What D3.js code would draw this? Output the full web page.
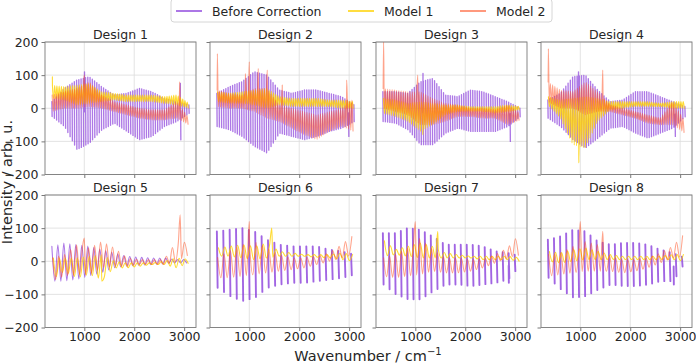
<html>
<head>
<style>
  body { margin: 0; background: #fff; }
  text { font-family: "DejaVu Sans", sans-serif; fill: #262626; }
</style>
</head>
<body>
<div id="chart"></div>
<script src="https://cdn.jsdelivr.net/npm/d3@7"></script>
<script>
var wn = [350, 600, 850, 1100, 1350, 1600, 1850, 2100, 2350, 2600, 2850, 3100];
var designs = ["Design 1", "Design 2", "Design 3", "Design 4", "Design 5", "Design 6", "Design 7", "Design 8"];
var seriesNames = ["Before Correction", "Model 1", "Model 2"];
// fringe period of each design, cm-1
var period = [45, 45, 45, 45, 120, 128, 120, 122];
var yTicks = [-200, -100, 0, 100, 200];
var xTicks = [1000, 2000, 3000];

// upper / lower envelope of each curve
var beforeHi = [
  [20, 60, 85, 95, 65, 40, 45, 60, 50, 30, 20, 10],
  [45, 65, 80, 110, 100, 55, 45, 55, 55, 45, 35, 10],
  [50, 50, 45, 80, 90, 40, 35, 55, 50, 35, 20, 0],
  [25, 45, 95, 100, 55, 20, 25, 50, 50, 35, 20, 5],
  [45, 55, 50, 45, 35, 25, 15, 12, 10, 10, 5, 5],
  [90, 95, 100, 90, 65, 50, 45, 45, 45, 35, 30, 20],
  [85, 85, 100, 95, 75, 50, 50, 50, 45, 30, 25, 15],
  [65, 75, 95, 90, 60, 50, 55, 55, 50, 35, 25, 10]
];
var beforeLo = [
  [-25, -55, -125, -105, -65, -45, -70, -95, -85, -55, -40, -15],
  [-55, -65, -85, -115, -135, -75, -85, -95, -85, -70, -60, -40],
  [-40, -45, -65, -110, -110, -75, -60, -70, -70, -70, -55, -25],
  [-30, -55, -95, -120, -90, -60, -55, -75, -90, -75, -60, -25],
  [-60, -60, -55, -45, -35, -20, -15, -12, -10, -8, -5, -5],
  [-80, -105, -120, -110, -80, -70, -65, -65, -60, -55, -50, -40],
  [-70, -100, -115, -115, -90, -70, -70, -75, -70, -65, -55, -10],
  [-50, -85, -110, -105, -85, -70, -75, -75, -70, -60, -60, 0]
];
var model1Hi = [
  [70, 65, 70, 75, 50, 45, 40, 40, 40, 35, 40, 15],
  [50, 45, 50, 55, 60, 35, 30, 30, 30, 25, 25, 20],
  [30, 25, 15, 20, 15, 10, 10, 5, 5, 5, 10, 5],
  [35, 25, 30, 35, 30, 20, 20, 20, 20, 15, 20, 20],
  [10, 10, 10, 15, 20, 0, -5, -5, -5, 0, 10, 5],
  [40, 45, 50, 45, 55, 30, 25, 20, 20, 20, 25, 20],
  [65, 35, 45, 55, 45, 25, 20, 15, 15, 15, 15, 10],
  [30, 25, 35, 40, 30, 20, 15, 15, 15, 15, 20, 20]
];
var model1Lo = [
  [30, 25, 10, 15, 20, 25, 20, 20, 20, 15, 10, 0],
  [20, 15, 15, 10, 0, 10, 5, 5, 5, 5, 0, 0],
  [-15, -25, -40, -70, -50, -20, -10, -10, -10, -15, -10, -5],
  [10, -30, -110, -120, -40, -5, 0, 5, 5, 5, 0, 0],
  [-55, -30, -50, -40, -55, -20, -20, -15, -10, -10, -20, -5],
  [15, 15, 10, 5, 10, 15, 15, 15, 12, 10, 5, 0],
  [15, 20, 15, 10, 10, 10, 10, 10, 5, 5, 5, 0],
  [0, -5, 0, 5, 5, 5, 5, 5, 5, 5, 5, 0]
];
var model2Hi = [
  [40, 50, 60, 80, 40, 20, 10, 0, -5, -5, 20, -30],
  [55, 45, 40, 60, 60, 10, 0, -10, -20, -10, 0, 30],
  [60, 55, 50, 50, 30, 15, 10, 0, 0, -5, 10, -15],
  [80, 55, 50, 80, 50, 10, 0, -10, -20, -30, 20, -40],
  [10, 20, 50, 40, 60, 40, 10, 5, 5, 5, 60, 55],
  [10, 30, 50, 60, 40, 20, 10, 10, 15, 25, 50, 80],
  [10, 20, 40, 70, 35, 10, 10, 5, 5, 20, 40, 85],
  [20, 25, 45, 60, 50, 15, 5, 5, 10, 25, 45, 85]
];
var model2Lo = [
  [-10, 0, 0, 5, 0, -10, -20, -30, -35, -35, -30, -50],
  [5, 0, 0, -10, -30, -40, -60, -80, -95, -70, -55, -70],
  [0, -10, -20, -50, -50, -40, -25, -25, -30, -30, -50, -35],
  [20, 0, 0, -20, -10, -10, -20, -30, -45, -50, -50, -75],
  [-60, -45, -40, -40, -20, -15, -15, -10, -10, -10, 0, 20],
  [-50, -50, -45, -40, -35, -30, -25, -20, -10, 0, 10, 20],
  [-45, -50, -45, -40, -30, -35, -35, -30, -20, -5, 10, 20],
  [-45, -40, -35, -30, -30, -30, -35, -30, -20, -5, 10, 15]
];
// single sharp spikes: design index, series index, wavenumber, value
var spikes = [
  [0, 1, 360, 95], [0, 2, 1000, 100], [0, 2, 2910, 80], [0, 0, 1000, 110], [0, 0, 2930, -95], [0, 0, 2920, 75],
  [1, 2, 360, 165], [1, 2, 920, 105], [1, 2, 1000, 140], [1, 2, 1180, 120], [1, 2, 1360, 115], [1, 2, 1660, 70], [1, 2, 2950, 85], [1, 0, 2990, -85],
  [2, 2, 365, 205], [2, 2, 1050, 100], [2, 1, 1150, -80], [2, 0, 1150, 105], [2, 0, 2900, -100],
  [3, 2, 360, 180], [3, 2, 1450, 115], [3, 1, 970, -165], [3, 0, 960, 110], [3, 0, 2900, -85],
  [4, 2, 1000, 70], [4, 2, 2920, 140], [4, 1, 1350, -60],
  [5, 2, 1000, 120], [5, 1, 1450, 100],
  [6, 2, 1000, 120], [6, 1, 1450, 90], [6, 0, 2870, -65],
  [7, 2, 1000, 120], [7, 2, 1450, 90], [7, 0, 2870, -70]
];

var colors = ["#8a3fdc", "#ffd200", "#ff4a1a"];
var opac = [0.7, 0.8, 0.5];
var envHi = [beforeHi, model1Hi, model2Hi];
var envLo = [beforeLo, model1Lo, model2Lo];
var phase = [0, 0.5, 0.25];

var W = 696, H = 363, pw = 151, ph = 132.5;
var lefts = [45, 210, 376, 541], tops = [42, 195];

var svg = d3.select("#chart").append("svg").attr("width", W).attr("height", H);

var x = d3.scaleLinear().domain([212.5, 3237.5]).range([0, pw]);
var y = d3.scaleLinear().domain([-200, 200]).range([ph, 0]);

svg.append("defs").append("clipPath").attr("id", "clip")
  .append("rect").attr("width", pw).attr("height", ph);

function curvePoints(i, s) {
  var hi = d3.scaleLinear().domain(wn).range(envHi[s][i]);
  var lo = d3.scaleLinear().domain(wn).range(envLo[s][i]);
  var P = period[i], pts = [], t, k;
  var comb = s === 0 && i !== 4;
  if (comb) {
    // sharp fringes drawn as separate up/down strokes
    for (t = wn[0]; t <= wn[wn.length - 1]; t += P) {
      pts.push([t, hi(t)], [t + 0.12 * P, lo(t)], null);
    }
    spikes.filter(function (d) { return d[0] === i && d[1] === s; })
      .forEach(function (d) { pts.push([d[2], (hi(d[2]) + lo(d[2])) / 2], [d[2] + 4, d[3]], null); });
    return { pts: pts, comb: true };
  }
  for (k = 0, t = wn[0] + phase[s] * P / 2; t <= wn[wn.length - 1]; t += P / 2, k++) {
    pts.push([t, k % 2 === 0 ? hi(t) : lo(t)]);
  }
  spikes.filter(function (d) { return d[0] === i && d[1] === s; })
    .forEach(function (d) { pts.push([d[2], d[3]]); });
  pts.sort(function (a, b) { return a[0] - b[0]; });
  return { pts: pts, comb: false };
}

designs.forEach(function (name, i) {
  var col = i % 4, row = Math.floor(i / 4);
  var g = svg.append("g").attr("transform", "translate(" + lefts[col] + "," + tops[row] + ")");

  // grid
  g.selectAll(".gx").data(xTicks).enter().append("line")
    .attr("x1", function (d) { return x(d); }).attr("x2", function (d) { return x(d); })
    .attr("y1", 0).attr("y2", ph).attr("stroke", "#dcdcdc").attr("stroke-width", 0.8);
  g.selectAll(".gy").data(yTicks).enter().append("line")
    .attr("y1", function (d) { return y(d); }).attr("y2", function (d) { return y(d); })
    .attr("x1", 0).attr("x2", pw).attr("stroke", "#dcdcdc").attr("stroke-width", 0.8);

  var plot = g.append("g").attr("clip-path", "url(#clip)");
  for (var s = 0; s < 3; s++) {
    var cp = curvePoints(i, s);
    var line = d3.line().defined(function (d) { return d !== null; })
      .x(function (d) { return x(d[0]); }).y(function (d) { return y(d[1]); });
    if (!cp.comb) line.curve(d3.curveMonotoneX);
    plot.append("path").datum(cp.pts)
      .attr("fill", "none").attr("stroke", colors[s])
      .attr("stroke-opacity", cp.comb && i > 4 ? 0.8 : opac[s])
      .attr("stroke-width", cp.comb ? (i < 4 ? 1.35 : 1.9) : 1.1)
      .attr("stroke-linejoin", "round").attr("stroke-linecap", "round")
      .attr("d", line);
  }

  var xa = g.append("g").attr("transform", "translate(0," + ph + ")")
    .call(d3.axisBottom(x).tickValues(xTicks).tickSize(3.5).tickFormat(row === 1 ? d3.format("d") : ""));
  var ya = g.append("g")
    .call(d3.axisLeft(y).tickValues(yTicks).tickSize(3.5).tickFormat(col === 0 ? function (d) { return d < 0 ? "\u2212" + (-d) : d; } : ""));
  [xa, ya].forEach(function (a) {
    a.select(".domain").remove();
    a.selectAll("line").attr("stroke", "#555").attr("stroke-width", 0.8);
    a.selectAll("text").attr("font-size", 12.5).attr("fill", "#262626").style("font-family", "DejaVu Sans");
  });
  xa.selectAll("text").attr("y", 4.5);

  g.append("rect").attr("width", pw).attr("height", ph)
    .attr("fill", "none").attr("stroke", "#7a7a7a").attr("stroke-width", 0.9);

  g.append("text").attr("x", pw / 2).attr("y", -3.5).attr("text-anchor", "middle")
    .attr("font-size", 12.5).text(name);
});

svg.append("text").attr("x", 368).attr("y", 361).attr("text-anchor", "middle")
  .attr("font-size", 14.5).html("Wavenumber / cm<tspan dy='-6' font-size='10'>\u22121</tspan>");
svg.append("text").attr("transform", "translate(12,182) rotate(-90)")
  .attr("text-anchor", "middle").attr("font-size", 14.5).text("Intensity / arb. u.");

// legend
var lg = svg.append("g");
lg.append("rect").attr("x", 171).attr("y", -1).attr("width", 381).attr("height", 23).attr("rx", 3)
  .attr("fill", "#fff").attr("stroke", "#d6d6d6");
var lx = [176, 348, 460];
seriesNames.forEach(function (n, s) {
  lg.append("line").attr("x1", lx[s]).attr("x2", lx[s] + 26).attr("y1", 11).attr("y2", 11)
    .attr("stroke", colors[s]).attr("stroke-opacity", Math.min(1, opac[s] + 0.25)).attr("stroke-width", 1.5);
  lg.append("text").attr("x", lx[s] + 36).attr("y", 16).attr("font-size", 12.5).text(n);
});
</script>
</body>
</html>
